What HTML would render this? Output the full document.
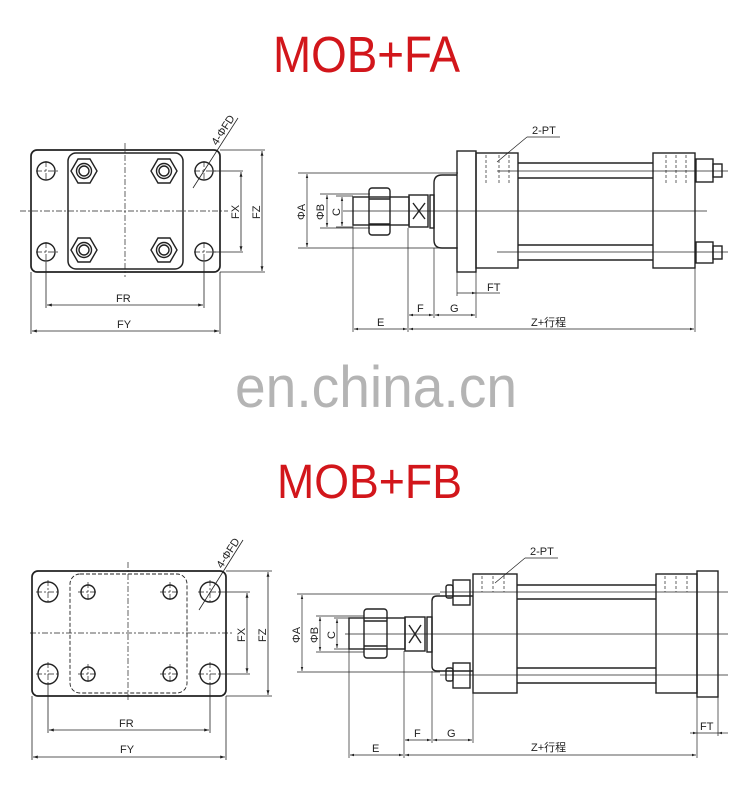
<!DOCTYPE html>
<html><head><meta charset="utf-8"><style>
html,body{margin:0;padding:0;background:#fff;}
svg{display:block;}
text{font-family:"Liberation Sans","Noto Sans CJK SC",sans-serif;}
</style></head><body>
<svg width="750" height="808" viewBox="0 0 750 808" xmlns="http://www.w3.org/2000/svg">
<defs>
<marker id="a" viewBox="0 0 10 10" refX="10" refY="5" markerWidth="6" markerHeight="6" orient="auto-start-reverse"><path d="M0,2 L10,5 L0,8z" fill="#222"/></marker>
</defs>
<text x="273" y="72" font-size="51" fill="#d2161b" textLength="187" lengthAdjust="spacingAndGlyphs">MOB+FA</text>
<text x="235" y="407" font-size="58" fill="#b4b4b4" textLength="282" lengthAdjust="spacingAndGlyphs">en.china.cn</text>
<text x="277" y="498" font-size="48" fill="#d2161b" textLength="185" lengthAdjust="spacingAndGlyphs">MOB+FB</text>

<g stroke="#222" fill="none" stroke-width="1.3">
<!-- TOP LEFT PLATE -->
<rect x="31" y="150" width="189" height="122" rx="6" stroke-width="1.7"/>
<rect x="68" y="153" width="115" height="116" rx="8" stroke-width="1.5"/>
<g stroke-width="1.4">
<circle cx="46" cy="171" r="9"/><circle cx="204" cy="171" r="9"/><circle cx="46" cy="252" r="9"/><circle cx="204" cy="252" r="9"/>
</g>
<g stroke-width="0.7" stroke-dasharray="6 2 2 2">
<path d="M125 143V277M20 211H228M36 171H58M36 252H58M194 171H216M194 252H216M46 161V181M46 242V262M204 161V181M204 242V262"/>
</g>
<g stroke-width="1.4">
<polygon points="78,159 90,159 97,171 90,183 78,183 71,171"/><circle cx="84" cy="171" r="7.5"/><circle cx="84" cy="171" r="5"/>
<polygon points="158,159 170,159 177,171 170,183 158,183 151,171"/><circle cx="164" cy="171" r="7.5"/><circle cx="164" cy="171" r="5"/>
<polygon points="78,238 90,238 97,250 90,262 78,262 71,250"/><circle cx="84" cy="250" r="7.5"/><circle cx="84" cy="250" r="5"/>
<polygon points="158,238 170,238 177,250 170,262 158,262 151,250"/><circle cx="164" cy="250" r="7.5"/><circle cx="164" cy="250" r="5"/>
</g>
<g stroke-width="0.8">
<path d="M213 171H243M213 252H243M220 150H265M220 272H265"/>
<path d="M241 172V251" marker-start="url(#a)" marker-end="url(#a)"/>
<path d="M262 151V271" marker-start="url(#a)" marker-end="url(#a)"/>
<path d="M46 262V308M204 262V308M31 272V334M220 272V334"/>
<path d="M47 305H203" marker-start="url(#a)" marker-end="url(#a)"/>
<path d="M32 331H219" marker-start="url(#a)" marker-end="url(#a)"/>
<path d="M193 188L238 118"/>
</g>

<!-- TOP RIGHT CYLINDER -->
<g stroke-width="1.4">
<rect x="457" y="151" width="19" height="121"/>
<rect x="476" y="153" width="42" height="115"/>
<rect x="653" y="153" width="42" height="115"/>
<path d="M518 163H653M518 178H653M518 245H653M518 260H653"/>
<path d="M457 175H442Q434 175 434 183V240Q434 248 442 248H457"/>
<rect x="430" y="195" width="4" height="33"/>
<rect x="409" y="195" width="19" height="32"/>
<path d="M413 203L425 219M425 203L413 219"/>
<rect x="353" y="197" width="56" height="28"/>
<rect x="369" y="188" width="21" height="47" rx="3"/>
<path d="M369 199H390M369 224H390"/>
<rect x="696" y="159" width="17" height="23"/><rect x="713" y="164" width="9" height="13"/>
<rect x="696" y="242" width="17" height="21"/><rect x="713" y="246" width="9" height="13"/>
</g>
<g stroke-width="0.7">
<path d="M343 211H707M497 171H728M497 252H728"/>
<path d="M298 173H458M298 248H458M320 194H370M320 228H370M336 196H353M336 227H353"/>
<path d="M307 174V247" marker-start="url(#a)" marker-end="url(#a)"/>
<path d="M327 195V227" marker-start="url(#a)" marker-end="url(#a)"/>
<path d="M342 197V226" marker-start="url(#a)" marker-end="url(#a)"/>
<path d="M353 225V332M408 228V332M434 248V318M476 268V318M457 272V296M695 268V332"/>
<path d="M457 293H476" marker-end="url(#a)"/><path d="M476 293H500"/>
<path d="M409 315H433" marker-start="url(#a)" marker-end="url(#a)"/>
<path d="M435 315H475" marker-start="url(#a)" marker-end="url(#a)"/>
<path d="M354 329H407" marker-start="url(#a)" marker-end="url(#a)"/>
<path d="M409 329H694" marker-start="url(#a)" marker-end="url(#a)"/>
<path d="M527 137H560M527 137L497 162"/>
<path d="M486 155V185M499 155V185M509 155V185M666 155V185M676 155V185M686 155V185" stroke-dasharray="3 2"/>
</g>

<!-- BOTTOM LEFT PLATE -->
<rect x="32" y="571" width="194" height="125" rx="6" stroke-width="1.7"/>
<rect x="70" y="574" width="117" height="119" rx="10" stroke-width="0.9" stroke-dasharray="4 2"/>
<g stroke-width="1.4">
<circle cx="48" cy="592" r="10"/><circle cx="210" cy="592" r="10"/><circle cx="48" cy="674" r="10"/><circle cx="210" cy="674" r="10"/>
<circle cx="88" cy="592" r="7"/><circle cx="170" cy="592" r="7"/><circle cx="88" cy="674" r="7"/><circle cx="170" cy="674" r="7"/>
</g>
<g stroke-width="0.7" stroke-dasharray="6 2 2 2">
<path d="M128 562V700M30 633H233M36 592H60M36 674H60M198 592H222M198 674H222M48 580V604M48 662V686M210 580V604M210 662V686M78 592H98M160 592H180M78 674H98M160 674H180M88 582V602M88 664V684M170 582V602M170 664V684"/>
</g>
<g stroke-width="0.8">
<path d="M220 592H250M220 674H250M226 571H272M226 696H272"/>
<path d="M247 593V673" marker-start="url(#a)" marker-end="url(#a)"/>
<path d="M268 572V695" marker-start="url(#a)" marker-end="url(#a)"/>
<path d="M48 684V733M210 684V733M32 696V760M226 696V760"/>
<path d="M49 730H209" marker-start="url(#a)" marker-end="url(#a)"/>
<path d="M33 757H225" marker-start="url(#a)" marker-end="url(#a)"/>
<path d="M199 610L243 540"/>
</g>

<!-- BOTTOM RIGHT CYLINDER -->
<g stroke-width="1.4">
<rect x="473" y="574" width="44" height="119"/>
<rect x="656" y="574" width="41" height="119"/>
<rect x="697" y="571" width="21" height="126"/>
<path d="M517 585H656M517 599H656M517 668H656M517 683H656"/>
<path d="M473 596H437Q432 596 432 601V666Q432 671 437 671H473"/>
<rect x="427" y="617" width="5" height="35"/>
<rect x="405" y="617" width="20" height="34"/>
<path d="M409 625L421 643M421 625L409 643"/>
<rect x="349" y="618" width="56" height="31"/>
<rect x="364" y="609" width="23" height="49" rx="3"/>
<path d="M364 621H387M364 646H387"/>
<rect x="453" y="580" width="17" height="25"/><rect x="446" y="585" width="7" height="13" rx="2"/>
<rect x="453" y="663" width="17" height="25"/><rect x="446" y="668" width="7" height="13" rx="2"/>
</g>
<g stroke-width="0.7">
<path d="M345 634H728M440 592H728M440 675H728"/>
<path d="M297 594H440M297 672H440M316 616H364M316 652H364M334 618H349M334 649H349"/>
<path d="M302 595V671" marker-start="url(#a)" marker-end="url(#a)"/>
<path d="M320 617V651" marker-start="url(#a)" marker-end="url(#a)"/>
<path d="M337 619V648" marker-start="url(#a)" marker-end="url(#a)"/>
<path d="M349 649V758M404 651V758M432 671V743M473 693V743M697 697V758M718 697V736"/>
<path d="M690 733H697" marker-end="url(#a)"/><path d="M697 733H718"/><path d="M728 733H718" marker-end="url(#a)"/>
<path d="M405 740H431" marker-start="url(#a)" marker-end="url(#a)"/>
<path d="M433 740H472" marker-start="url(#a)" marker-end="url(#a)"/>
<path d="M350 755H403" marker-start="url(#a)" marker-end="url(#a)"/>
<path d="M405 755H696" marker-start="url(#a)" marker-end="url(#a)"/>
<path d="M525 558H558M525 558L495 583"/>
<path d="M482 576V592M493 576V592M504 576V592M665 576V592M676 576V592M687 576V592" stroke-dasharray="3 2"/>
</g>
</g>

<g font-size="11" fill="#222">
<text x="116" y="302">FR</text>
<text x="117" y="328">FY</text>
<text transform="translate(239,219) rotate(-90)">FX</text>
<text transform="translate(260,219) rotate(-90)">FZ</text>
<text transform="translate(217,146) rotate(-57)">4-ΦFD</text>
<text x="532" y="134">2-PT</text>
<text x="487" y="291">FT</text>
<text x="417" y="312">F</text>
<text x="450" y="312">G</text>
<text x="377" y="326">E</text>
<text x="531" y="326">Z+行程</text>
<text transform="translate(305,220) rotate(-90)">ΦA</text>
<text transform="translate(324,220) rotate(-90)">ΦB</text>
<text transform="translate(340,216) rotate(-90)">C</text>

<text x="119" y="727">FR</text>
<text x="120" y="753">FY</text>
<text transform="translate(245,642) rotate(-90)">FX</text>
<text transform="translate(266,642) rotate(-90)">FZ</text>
<text transform="translate(222,569) rotate(-57)">4-ΦFD</text>
<text x="530" y="555">2-PT</text>
<text x="700" y="730">FT</text>
<text x="414" y="737">F</text>
<text x="447" y="737">G</text>
<text x="372" y="752">E</text>
<text x="531" y="751">Z+行程</text>
<text transform="translate(300,643) rotate(-90)">ΦA</text>
<text transform="translate(318,643) rotate(-90)">ΦB</text>
<text transform="translate(335,639) rotate(-90)">C</text>
</g>
</svg>
</body></html>
